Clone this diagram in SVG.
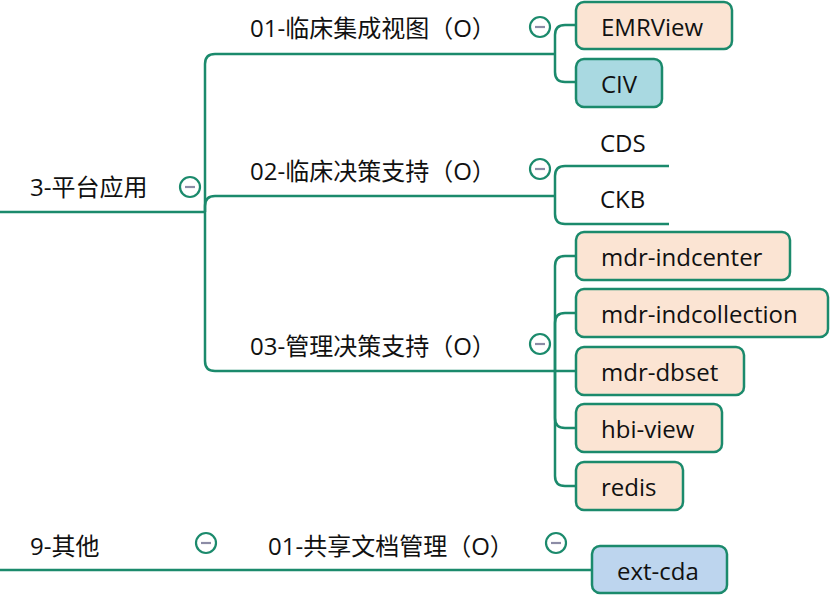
<svg xmlns="http://www.w3.org/2000/svg" width="830" height="598" viewBox="0 0 830 598">
<style>
text{font-family:"Open Sans","Noto Sans CJK SC",sans-serif;font-size:24px;fill:#111}
.ln{fill:none;stroke:#1b8a6c;stroke-width:2.5}
.box{stroke:#1b8a6c;stroke-width:2.5}
.peach{fill:#fbe4d3}
.teal{fill:#a9d9e1}
.blue{fill:#bdd5ee}
.tog circle{fill:#fff;stroke:#1b8a6c;stroke-width:2.2}
.tog line{stroke:#8c8ca6;stroke-width:2.2}
</style>
<g id="connectors">
<path class="ln" d="M0,212 H205"/>
<path class="ln" d="M205,212 V64 Q205,54 215,54 H555"/>
<path class="ln" d="M205,212 V206 Q205,196 215,196 H555"/>
<path class="ln" d="M205,212 V361 Q205,371 215,371 H555"/>
<path class="ln" d="M555,54 V35 Q555,25 565,25 H576"/>
<path class="ln" d="M555,54 V72 Q555,82 565,82 H576"/>
<path class="ln" d="M555,196 V176 Q555,166 565,166 H669"/>
<path class="ln" d="M555,196 V214 Q555,224 565,224 H669"/>
<path class="ln" d="M555,371 V266 Q555,256 565,256 H576"/>
<path class="ln" d="M555,371 V323 Q555,313 565,313 H576"/>
<path class="ln" d="M555,371 H576"/>
<path class="ln" d="M555,371 V418 Q555,428 565,428 H576"/>
<path class="ln" d="M555,371 V476 Q555,486 565,486 H576"/>
<path class="ln" d="M0,570 H592"/>
</g>
<g id="n-platform"><text x="30" y="196">3-平台应用</text>
<g class="tog"><circle cx="190" cy="187" r="10"/><line x1="185" y1="187" x2="195" y2="187"/></g></g>
<g id="n-01"><text x="250" y="37">01-临床集成视图（O）</text>
<g class="tog"><circle cx="540" cy="27" r="10"/><line x1="535" y1="27" x2="545" y2="27"/></g></g>
<g id="n-02"><text x="250" y="180">02-临床决策支持（O）</text>
<g class="tog"><circle cx="540" cy="169" r="10"/><line x1="535" y1="169" x2="545" y2="169"/></g></g>
<g id="n-03"><text x="250" y="355">03-管理决策支持（O）</text>
<g class="tog"><circle cx="540" cy="344" r="10"/><line x1="535" y1="344" x2="545" y2="344"/></g></g>
<g id="n-emrview"><rect class="box peach" x="576" y="2" width="156" height="47" rx="8"/><text x="601" y="36">EMRView</text></g>
<g id="n-civ"><rect class="box teal" x="576" y="59" width="86" height="48" rx="8"/><text x="601" y="93">CIV</text></g>
<g id="n-cds"><text x="600" y="152">CDS</text></g>
<g id="n-ckb"><text x="600" y="208">CKB</text></g>
<g id="n-indcenter"><rect class="box peach" x="576" y="232" width="214" height="48" rx="8"/><text x="601" y="266">mdr-indcenter</text></g>
<g id="n-indcollection"><rect class="box peach" x="576" y="289" width="252" height="48" rx="8"/><text x="601" y="323">mdr-indcollection</text></g>
<g id="n-dbset"><rect class="box peach" x="576" y="347" width="168" height="48" rx="8"/><text x="601" y="381">mdr-dbset</text></g>
<g id="n-hbiview"><rect class="box peach" x="576" y="404" width="146" height="48" rx="8"/><text x="601" y="438">hbi-view</text></g>
<g id="n-redis"><rect class="box peach" x="576" y="462" width="107" height="48" rx="8"/><text x="601" y="496">redis</text></g>
<g id="n-other"><text x="30" y="555">9-其他</text>
<g class="tog"><circle cx="206" cy="543" r="10"/><line x1="201" y1="543" x2="211" y2="543"/></g></g>
<g id="n-share"><text x="268" y="555">01-共享文档管理（O）</text>
<g class="tog"><circle cx="556" cy="543" r="10"/><line x1="551" y1="543" x2="561" y2="543"/></g></g>
<g id="n-extcda"><rect class="box blue" x="592" y="546" width="135" height="47" rx="8"/><text x="617" y="580">ext-cda</text></g>
</svg>
